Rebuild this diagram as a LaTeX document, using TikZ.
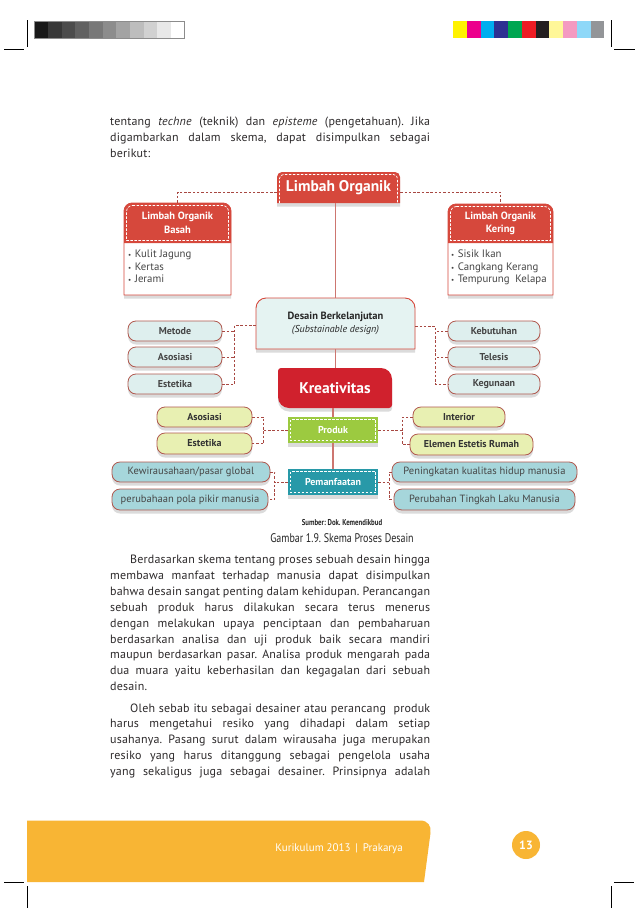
\documentclass[tikz,border=0pt]{standalone}
\usepackage{fontspec}
\setmainfont{PT Sans}
\newfontfamily\condfont[FakeStretch=0.8]{PT Sans}
\newfontfamily\bodyfont[LetterSpace=1.5]{PT Sans}
\usetikzlibrary{shadows,calc}
\frenchspacing
\definecolor{redh}{RGB}{214,72,60}
\definecolor{krec}{RGB}{208,33,45}
\definecolor{prodg}{RGB}{156,202,64}
\definecolor{pemt}{RGB}{40,153,168}
\definecolor{lcyan}{RGB}{222,239,238}
\definecolor{desfill}{RGB}{229,243,242}
\definecolor{lgreen}{RGB}{232,240,178}
\definecolor{lteal}{RGB}{166,214,219}
\definecolor{pillbd}{RGB}{176,88,78}
\definecolor{dashcol}{RGB}{168,72,66}
\definecolor{solidcol}{RGB}{205,118,112}
\definecolor{pilltext}{RGB}{70,70,70}
\definecolor{bodytext}{RGB}{45,42,43}
\definecolor{orangef}{RGB}{248,181,52}
\definecolor{swa}{HTML}{FFF200}
\definecolor{swb}{HTML}{EC008C}
\definecolor{swc}{HTML}{00AEEF}
\definecolor{swd}{HTML}{2E3192}
\definecolor{swe}{HTML}{00A651}
\definecolor{swf}{HTML}{ED1C24}
\definecolor{swg}{HTML}{231F20}
\definecolor{swh}{HTML}{FFF799}
\definecolor{swi}{HTML}{F49AC1}
\definecolor{swj}{HTML}{8ED8F8}
\definecolor{swk}{HTML}{939598}
% box with four corner radii: style, x1, y1(top), x2, y2(bottom), rTL, rTR, rBR, rBL
\newcommand\rrbox[9]{%
 \path[#1] (#2+#6,#3) -- (#4-#7,#3) .. controls (#4-0.45*#7,#3) and (#4,#3+0.45*#7) .. (#4,#3+#7)
 -- (#4,#5-#8) .. controls (#4,#5-0.45*#8) and (#4-0.45*#8,#5) .. (#4-#8,#5)
 -- (#2+#9,#5) .. controls (#2+0.45*#9,#5) and (#2,#5-0.45*#9) .. (#2,#5-#9)
 -- (#2,#3+#6) .. controls (#2,#3+0.45*#6) and (#2+0.45*#6,#3) .. (#2+#6,#3) -- cycle;}
% open top-rounded outline
\newcommand\rtopen[6]{%
 \path[#1] (#2,#5) -- (#2,#3+#6) .. controls (#2,#3+0.45*#6) and (#2+0.45*#6,#3) .. (#2+#6,#3)
 -- (#4-#6,#3) .. controls (#4-0.45*#6,#3) and (#4,#3+0.45*#6) .. (#4,#3+#6) -- (#4,#5);}
\begin{document}
\begin{tikzpicture}[x=1pt,y=-1pt,
 dcon/.style={draw=dashcol, line width=0.8pt, dash pattern=on 2.5pt off 1.8pt},
 scon/.style={draw=solidcol, line width=1.3pt},
 shd/.style={drop shadow={shadow xshift=0pt,shadow yshift=-3.5pt,opacity=0.25,fill=black!55}},
 psize/.style 2 args={minimum width=#1pt, minimum height=#2pt},
 pill/.style={draw=pillbd, line width=0.8pt, rounded corners=8pt, inner sep=0pt, text=pilltext,
   font=\bfseries\fontsize{10}{12}\selectfont, shd},
 cyanpill/.style={pill, fill=lcyan},
 greenpill/.style={pill, fill=lgreen, text=black!80},
 tealpill/.style={pill, fill=lteal, font=\fontsize{10.5}{12}\selectfont},
 wdash/.style={draw=white, line width=0.7pt, dash pattern=on 2.5pt off 1.5pt},
 body/.style={anchor=base west, inner sep=0pt, font=\bodyfont\fontsize{12}{14}\selectfont, text=bodytext},
 whitebold/.style={text=white, inner sep=0pt, font=\bfseries\fontsize{10}{12}\selectfont},
 blist/.style={anchor=north west, inner sep=0pt, align=left, text=pilltext, font=\fontsize{10.8}{12.5}\selectfont},
 crop/.style={draw=black, line width=0.6pt}]
\useasboundingbox (0,0) rectangle (638,908);
\fill[white] (0,0) rectangle (638,908);

% ---- printer marks ----
\foreach \g [count=\i from 0] in {90,78,70,62,53,45,36,26,18,9,0}
  \fill[black!\g] (34.6+\i*13.62,21) rectangle (34.6+\i*13.62+13.62,38);
\draw[black!45, line width=0.4pt] (34.6,21) rectangle (184.4,38);
\foreach \c [count=\i from 0] in {swa,swb,swc,swd,swe,swf,swg,swh,swi,swj,swk}
  \fill[\c] (453+\i*13.76,21) rectangle (453+\i*13.76+13.76,38);
\draw[crop] (27,20) -- (27,47);  \draw[crop] (4,49) -- (24,49);
\draw[crop] (611,20) -- (611,47); \draw[crop] (614,49) -- (635,49);
\draw[crop] (27,886) -- (27,908); \draw[crop] (4,882) -- (24,882);
\draw[crop] (611,886) -- (611,908); \draw[crop] (614,882) -- (634,882);

% ---- paragraph 1 ----
\node[body] (pa1) at (110,125.5) {\makebox[320pt][s]{tentang \textit{techne} (teknik) dan \textit{episteme} (pengetahuan). Jika}};
\node[body] (pa2) at (110,141.5) {\makebox[320pt][s]{digambarkan dalam skema, dapat disimpulkan sebagai}};
\node[body] (pa3) at (110,157.5) {berikut:};

% ---- diagram shapes ----
% Limbah Organik
\rrbox{fill=redh, shd}{277}{172}{400}{203}{5}{5}{0}{0}
\rtopen{wdash}{279.5}{174.5}{397.5}{203}{4}
% Basah
\rrbox{draw=redh, line width=0.8pt, fill=white, shd}{124}{203}{231}{295}{8}{8}{0}{0}
\rrbox{fill=redh}{124}{203}{231}{243}{8}{8}{0}{0}
\rrbox{wdash}{126.5}{205.5}{228.5}{240.5}{6}{6}{0}{0}
% Kering
\rrbox{draw=redh, line width=0.8pt, fill=white, shd}{448}{204}{553}{295}{8}{8}{0}{0}
\rrbox{fill=redh}{448}{204}{553}{243}{8}{8}{0}{0}
\rrbox{wdash}{450.5}{206.5}{550.5}{240.5}{6}{6}{0}{0}
% Desain
\rrbox{draw=redh, line width=0.9pt, fill=desfill, shd}{256}{298}{415}{349}{10}{10}{0}{0}
% Kreativitas
\rrbox{fill=krec, shd}{278}{368}{392}{408}{3}{11}{3}{11}
% Produk / Pemanfaatan
\fill[prodg, shd] (288,417) rectangle (378,443);
\draw[wdash] (290.5,419.5) rectangle (375.5,440.5);
\fill[pemt, shd] (288,469) rectangle (378,495);
\draw[wdash] (290.5,471.5) rectangle (375.5,492.5);

% ---- diagram nodes ----
\node[text=white, inner sep=0pt, font=\bfseries\fontsize{15.5}{18}\selectfont, psize={123}{31}] (lo) at (338.5,187.5) {Limbah Organik};
\node[whitebold, align=center, font=\bfseries\fontsize{10.5}{13.5}\selectfont, psize={107}{40}] (basah) at (177.5,223) {Limbah Organik\\Basah};
\node[blist] (basahl) at (128,250) {{\fontsize{7}{8}\selectfont\textbullet}\hspace{3.5pt}Kulit Jagung\\{\fontsize{7}{8}\selectfont\textbullet}\hspace{3.5pt}Kertas\\{\fontsize{7}{8}\selectfont\textbullet}\hspace{3.5pt}Jerami};
\node[whitebold, align=center, font=\bfseries\fontsize{10.5}{13.5}\selectfont, psize={105}{39}] (kering) at (500.5,223.5) {Limbah Organik\\Kering};
\node[blist] (keringl) at (451,250) {{\fontsize{7}{8}\selectfont\textbullet}\hspace{3.5pt}Sisik Ikan\\{\fontsize{7}{8}\selectfont\textbullet}\hspace{3.5pt}Cangkang Kerang\\{\fontsize{7}{8}\selectfont\textbullet}\hspace{3.5pt}Tempurung\ \ Kelapa};
\node[inner sep=0pt, align=center, psize={159}{51}, text=black!85] (des) at (335.5,323.5)
  {{\bfseries\fontsize{10.5}{12}\selectfont Desain Berkelanjutan}\\[1.5pt]{\itshape\fontsize{10}{12}\selectfont (Substainable design)}};
\node[text=white, inner sep=0pt, font=\bfseries\fontsize{15.5}{18}\selectfont, psize={114}{40}] (kre) at (335,388) {Kreativitas};
\node[whitebold, psize={90}{26}] (prod) at (333,430) {Produk};
\node[whitebold, psize={90}{26}] (pem) at (333,482) {Pemanfaatan};

\node[cyanpill, psize={94}{20}] (metode) at (175,331) {Metode};
\node[cyanpill, psize={94}{20}] (asos1) at (175,357) {Asosiasi};
\node[cyanpill, psize={94}{20}] (estet1) at (175,384) {Estetika};
\node[cyanpill, psize={92}{20}] (kebut) at (494,331) {Kebutuhan};
\node[cyanpill, psize={92}{20}] (telesis) at (494,357) {Telesis};
\node[cyanpill, psize={92}{20}] (keguna) at (494,384) {Kegunaan};

\node[greenpill, psize={95}{20}] (asos2) at (204.5,417) {Asosiasi};
\node[greenpill, psize={95}{21}] (estet2) at (204.5,443.5) {Estetika};
\node[greenpill, psize={92}{20}] (inter) at (459,417) {Interior};
\node[greenpill, psize={123}{21}] (elemen) at (471.5,444.5) {Elemen Estetis Rumah};

\node[tealpill, psize={158}{20}] (kew) at (191,472) {Kewirausahaan/pasar global};
\node[tealpill, psize={156}{21}] (perub1) at (190,499.5) {perubahaan pola pikir manusia};
\node[tealpill, psize={185}{20}] (pening) at (484.5,472) {Peningkatan kualitas hidup manusia};
\node[tealpill, psize={181}{21}] (perub2) at (484.5,499.5) {Perubahan Tingkah Laku Manusia};

% ---- connectors ----
\draw[dcon] ([yshift=-4.5pt]lo.west) -| (basah.north);
\draw[dcon] ([yshift=-4.5pt]lo.east) -| (kering.north);
\draw[scon] (lo.south -| des.north) -- (des.north);
\draw[scon] (des.south) -- (des.south |- kre.north);
\draw[scon] (kre.south -| prod.north) -- (prod.north);
\draw[scon] (prod.south) -- (pem.north);

\coordinate (jl1) at ([xshift=-21pt,yshift=-1.5pt]des.west);
\draw[dcon] ([yshift=-1.5pt]des.west) -- (jl1) -- (jl1 |- estet1.east) -- (estet1.east);
\draw[dcon] (metode.east) -- (metode.east -| jl1);
\draw[dcon] (asos1.east) -- (asos1.east -| jl1);
\coordinate (jr1) at ([xshift=20pt,yshift=-2.5pt]des.east);
\draw[dcon] ([yshift=-2.5pt]des.east) -- (jr1) -- (jr1 |- keguna.west) -- (keguna.west);
\draw[dcon] (kebut.west) -- (kebut.west -| jr1);
\draw[dcon] (telesis.west) -- (telesis.west -| jr1);

\coordinate (jl2) at ([xshift=-24pt]prod.west);
\draw[dcon] (prod.west) -- (jl2);
\draw[dcon] (asos2.east) -- (asos2.east -| jl2) -- (estet2.east -| jl2) -- (estet2.east);
\coordinate (jr2) at ([xshift=24pt]prod.east);
\draw[dcon] (prod.east) -- (jr2);
\draw[dcon] (inter.west) -- (inter.west -| jr2) -- (elemen.west -| jr2) -- (elemen.west);

\coordinate (jl3) at ([xshift=-13pt]pem.west);
\draw[dcon] (pem.west) -- (jl3);
\draw[dcon] (kew.east) -- (kew.east -| jl3) -- (perub1.east -| jl3) -- (perub1.east);
\coordinate (jr3) at ([xshift=11pt]pem.east);
\draw[dcon] (pem.east) -- (jr3);
\draw[dcon] (pening.west) -- (pening.west -| jr3) -- (perub2.west -| jr3) -- (perub2.west);

% ---- caption ----
\node[inner sep=0pt, text=black!85, font=\condfont\bfseries\fontsize{8.5}{10}\selectfont] (src) at (342,523) {Sumber: Dok. Kemendikbud};
\node[inner sep=0pt, text=black!85, font=\condfont\fontsize{12.5}{14}\selectfont] (cap) at (342,538) {Gambar 1.9. Skema Proses Desain};

% ---- paragraph 2 ----
\node[body] (pb1) at (130,563.5) {\makebox[300pt][s]{Berdasarkan skema tentang proses sebuah desain hingga}};
\node[body] (pb2) at (110,579.4) {\makebox[320pt][s]{membawa manfaat terhadap manusia dapat disimpulkan}};
\node[body] (pb3) at (110,595.3) {\makebox[320pt][s]{bahwa desain sangat penting dalam kehidupan. Perancangan}};
\node[body] (pb4) at (110,611.2) {\makebox[320pt][s]{sebuah produk harus dilakukan secara terus menerus}};
\node[body] (pb5) at (110,627.1) {\makebox[320pt][s]{dengan melakukan upaya penciptaan dan pembaharuan}};
\node[body] (pb6) at (110,643.0) {\makebox[320pt][s]{berdasarkan analisa dan uji produk baik secara mandiri}};
\node[body] (pb7) at (110,658.9) {\makebox[320pt][s]{maupun berdasarkan pasar. Analisa produk mengarah pada}};
\node[body] (pb8) at (110,674.8) {\makebox[320pt][s]{dua muara yaitu keberhasilan dan kegagalan dari sebuah}};
\node[body] (pb9) at (110,690.7) {desain.};

% ---- paragraph 3 ----
\node[body] (pc1) at (130,712) {\makebox[300pt][s]{Oleh sebab itu sebagai desainer atau perancang \ produk}};
\node[body] (pc2) at (110,727.9) {\makebox[320pt][s]{harus mengetahui resiko yang dihadapi dalam setiap}};
\node[body] (pc3) at (110,743.8) {\makebox[320pt][s]{usahanya. Pasang surut dalam wirausaha juga merupakan}};
\node[body] (pc4) at (110,759.7) {\makebox[320pt][s]{resiko yang harus ditanggung sebagai pengelola usaha}};
\node[body] (pc5) at (110,775.6) {\makebox[320pt][s]{yang sekaligus juga sebagai desainer. Prinsipnya adalah}};

% ---- footer ----
\fill[orangef] (27,882) -- (27,820.5) -- (420,820.5) .. controls (428,820.5) and (431.5,826) .. (430.5,833) -- (424,882) -- cycle;
\node[anchor=east, inner sep=0pt, text=white, font=\fontsize{11}{13}\selectfont] (foot) at (403,849) {Kurikulum 2013 \,|\, Prakarya};
\node[circle, fill=orangef, minimum size=28pt, inner sep=0pt, text=white, font=\bfseries\fontsize{12}{14}\selectfont] (pg) at (526,845) {13};
\end{tikzpicture}
\end{document}
